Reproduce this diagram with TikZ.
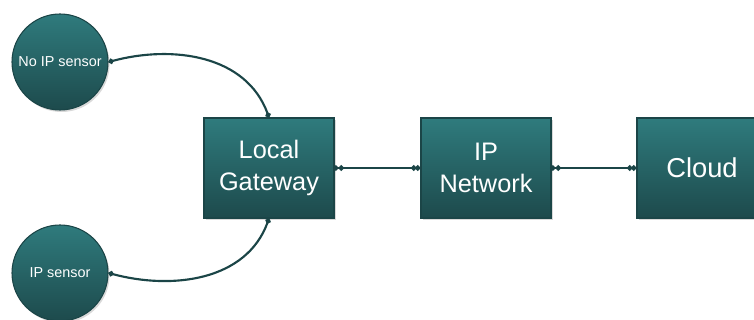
\documentclass[tikz,border=0pt]{standalone}
\usepackage{fontspec}
\setmainfont{Liberation Sans}
\usetikzlibrary{arrows.meta,shadows}
\definecolor{tealtop}{HTML}{2F7B7D}
\definecolor{tealbot}{HTML}{1D4A4C}
\definecolor{tealline}{HTML}{1B4547}

\begin{document}
\begin{tikzpicture}[x=0.75pt,y=0.75pt,
                every node/.style = {draw=tealline, line width=0.8pt,
                    top color=tealtop, bottom color=tealbot, text=white,
                    drop shadow={shadow xshift=1.2pt, shadow yshift=-1.5pt, opacity=0.3}},
                box/.style={rectangle, minimum width=97.5pt, minimum height=75pt,
                    align=center, font=\fontsize{19}{24.5}\selectfont},
                sensor/.style={circle, minimum size=72pt, inner sep=0pt,
                    font=\fontsize{10.8}{13}\selectfont},
                dot/.tip={Circle[length=4pt,width=4pt]},
                link/.style={draw=tealline, line width=1.6pt, {dot}-{dot}},
                pipe/.style={draw=tealline, line width=1.6pt,
                    {dot[sep=-1pt]dot}-{dot[sep=-1pt]dot}}]
                \useasboundingbox (0,0) rectangle (754,320);
                % sensors
                \node[sensor] (noip) at (60,258) {No IP sensor};
                \node[sensor] (ipsens) at (60,47) {IP sensor};
                % chain of boxes
                \node[box] (gw) at (269,152) {Local\\Gateway};
                \node[box] (net) at (486,152) {IP\\Network};
                \node[box, font=\fontsize{20.5}{24.5}\selectfont] (cloud) at (702,152) {Cloud};
                \draw[link] (noip.east) to[out=15,in=110] (gw.north);
                \draw[link] (ipsens.east) to[out=-15,in=-110] (gw.south);
                \draw[pipe] (gw) -- (net);
                \draw[pipe] (net) -- (cloud);
            \end{tikzpicture}
\end{document}
